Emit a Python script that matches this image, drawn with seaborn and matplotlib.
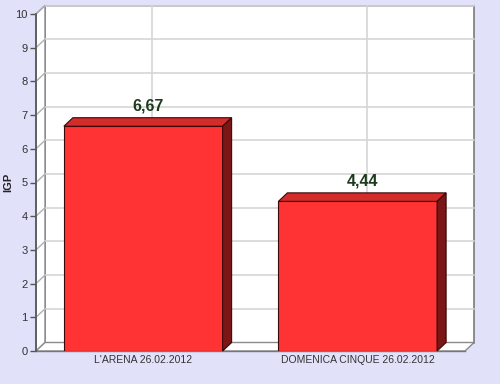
import matplotlib
matplotlib.use("Agg")
import matplotlib.pyplot as plt
import seaborn as sns
from matplotlib.patches import Polygon, Rectangle

categories = ["L'ARENA 26.02.2012", "DOMENICA CINQUE 26.02.2012"]
values = [6.67, 4.44]
labels = ["6,67", "4,44"]
yticks = list(range(0, 11))

sns.set_theme(style="white")
plt.rcParams['font.family'] = ['Liberation Sans', 'DejaVu Sans']

bg = '#E1E1FA'
fig = plt.figure(figsize=(5.0, 3.84), dpi=100, facecolor=bg)
ax = fig.add_axes([36/500, 33/384, 429/500, 337/384])
ax.set_facecolor('none')

ax.set_xlim(-0.5, 1.5)
ax.set_ylim(0, 10)

# 3D offset in data units
W, H = 429.0, 337.0
dx = 9.0 / W * 2.0
dy = 8.5 / H * 10.0

# back wall
ax.add_patch(Rectangle((-0.5 + dx, dy), 2.0, 10.0, facecolor='white',
                       edgecolor='#7a7a7a', lw=1.2, zorder=0, clip_on=False))
# left wall
ax.add_patch(Polygon([(-0.5, 0), (-0.5 + dx, dy), (-0.5 + dx, 10 + dy), (-0.5, 10)],
                     closed=True, facecolor='white', edgecolor='#8a8a8a', lw=1.0,
                     zorder=0.5, clip_on=False))
# floor
ax.add_patch(Polygon([(-0.5, 0), (1.5, 0), (1.5 + dx, dy), (-0.5 + dx, dy)],
                     closed=True, facecolor='white', edgecolor='#8a8a8a', lw=1.0,
                     zorder=0.5, clip_on=False))
# gridlines
for t in yticks[1:]:
    ax.plot([-0.5 + dx, 1.5 + dx], [t + dy, t + dy], color='#d6d6d6', lw=1.2,
            zorder=0.8, clip_on=False)
    ax.plot([-0.5, -0.5 + dx], [t, t + dy], color='#b0b0b0', lw=1.0,
            zorder=0.8, clip_on=False)
for i in range(len(categories)):
    ax.plot([i + dx, i + dx], [dy, 10 + dy], color='#d6d6d6', lw=1.2,
            zorder=0.8, clip_on=False)

bw = 0.74
sns.barplot(x=categories, y=values, color='#FF3333', saturation=1,
            edgecolor='#3a0808', linewidth=0.8, width=bw, ax=ax, zorder=3)

for i, v in enumerate(values):
    x0, x1 = i - bw / 2, i + bw / 2
    ax.add_patch(Polygon([(x0, v), (x1, v), (x1 + dx, v + dy), (x0 + dx, v + dy)],
                         closed=True, facecolor='#D42B2B', edgecolor='#3a0808',
                         lw=0.8, zorder=3, clip_on=False))
    ax.add_patch(Polygon([(x1, 0), (x1 + dx, dy), (x1 + dx, v + dy), (x1, v)],
                         closed=True, facecolor='#7A1616', edgecolor='#3a0808',
                         lw=0.8, zorder=3, clip_on=False))
    ax.text(i + dx / 2, v + dy + 0.12, labels[i], ha='center', va='bottom',
            fontsize=11.5, fontweight='bold', color='#1E3A1E', zorder=5)

ax.set_yticks(yticks)
ax.set_yticklabels([str(t) for t in yticks], fontsize=8, color='#333333')
ax.tick_params(axis='y', length=4, width=1, color='#555555', pad=2, left=True)
ax.tick_params(axis='x', length=0, pad=3, labelsize=7.5, labelcolor='#333333')
ax.set_ylabel('IGP', fontsize=8, fontweight='bold', color='#222222')
ax.yaxis.set_label_coords(-0.052, 0.5)
ax.set_xlabel('')

for s in ['top', 'right']:
    ax.spines[s].set_visible(False)
ax.spines['left'].set_color('#555555')
ax.spines['left'].set_linewidth(1.2)
ax.spines['bottom'].set_color('#777777')
ax.spines['bottom'].set_linewidth(1.0)
ax.spines['left'].set_zorder(4)

fig.savefig('out.png', dpi=100, facecolor=bg)
